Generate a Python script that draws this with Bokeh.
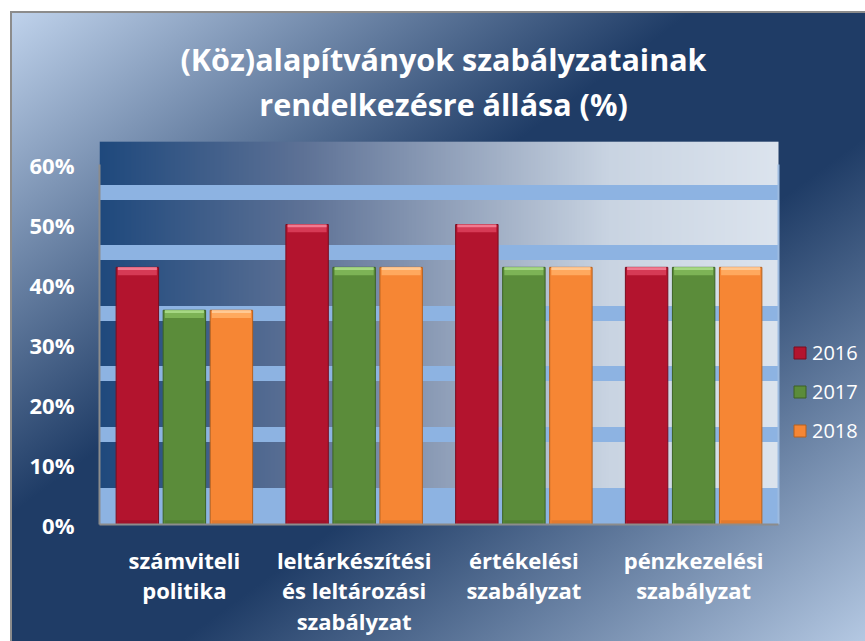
import numpy as np
from bokeh.plotting import figure
from bokeh.models import (ColumnDataSource, Range1d, Legend, LegendItem, Label,
                          BoxAnnotation, PrintfTickFormatter, FixedTicker)
from bokeh.transform import dodge
from bokeh.embed import file_html
from bokeh.resources import INLINE

# ---------------- data ----------------
CATEGORIES = ["számviteli\npolitika",
              "leltárkészítési\nés leltározási\nszabályzat",
              "értékelési\nszabályzat",
              "pénzkezelési\nszabályzat"]
YEARS = ["2016", "2017", "2018"]
V2016 = [42.86, 50.0, 50.0, 42.86]
V2017 = [35.71, 42.86, 42.86, 42.86]
V2018 = [35.71, 42.86, 42.86, 42.86]
Y_TICKS = [0, 10, 20, 30, 40, 50, 60]
TITLE_LINES = ["(Köz)alapítványok szabályzatainak", "rendelkezésre állása (%)"]

# decorative background bands of the plot area (in % units)
BAND_LO = [0.0, 13.75, 23.9, 33.9, 44.1, 54.1]
BAND_HI = [6.1, 16.25, 26.4, 36.4, 46.6, 56.6]

# ---------------- styles / layout ----------------
FONT = "Open Sans"
FILL = ["#B3142E", "#5B8C3A", "#F68634"]
EDGE = ["#7A0D1F", "#3C6125", "#B5611E"]
CAPC = ["#D63A55", "#7DB356", "#FFA95E"]
CAPC2 = ["#F07A90", "#A6D884", "#FFC994"]
BOTC = ["#A0122A", "#527F34", "#E27A2E"]
OFFSETS = [-0.277, 0.0, 0.277]
BAR_W = 0.25
CAP_H = 1.3
CAP2_H = 0.45
BOT_H = 0.7
W, H = 865, 641
LEFT, TOP, BOTTOM = 99, 11, 117
PLOT_W = 679                      # pixel width of the plot area
PX_PER_UNIT = 6.0                 # vertical pixels per 1 %
FRAME_W = W - LEFT
FRAME_H = H - TOP - BOTTOM
NCAT = len(CATEGORIES)
X_MAX = NCAT * FRAME_W / PLOT_W
Y_MAX = FRAME_H / PX_PER_UNIT
PLOT_TOP = 63.8                   # top of the plot-area fill (in % units)

p = figure(x_range=Range1d(0, X_MAX), y_range=Range1d(0, Y_MAX),
           width=W, height=H, output_backend="svg", toolbar_location=None,
           min_border_left=LEFT, min_border_right=0, min_border_top=TOP,
           min_border_bottom=BOTTOM)
p.border_fill_color = None
p.background_fill_color = None
p.outline_line_color = None
p.title.text = ""
p.title.text_font_size = "1px"
p.title.standoff = 0
p.styles = {
    "background": (
        "linear-gradient(#8c8c8c,#8c8c8c) 10px 11px / 100% 2px no-repeat, "
        "linear-gradient(#8c8c8c,#8c8c8c) 10px 11px / 2px 100% no-repeat, "
        "linear-gradient(to bottom right, #C0D3EC 0%, #1F3C66 40%, #1F3C66 60%, #B4C8E2 100%) "
        "10px 11px / 855px 630px no-repeat, #ffffff")
}

# plot-area horizontal gradient
stops_pos = [0.0, 0.30, 0.75, 1.0]
stops_col = [(31, 73, 125), (94, 114, 150), (201, 212, 226), (220, 228, 238)]
N = 400
t = np.linspace(0, 1, N)
img = np.zeros((1, N), dtype=np.uint32)
view = img.view(dtype=np.uint8).reshape((1, N, 4))
for k in range(3):
    view[0, :, k] = np.interp(t, stops_pos, [c[k] for c in stops_col]).astype(np.uint8)
view[0, :, 3] = 255
p.image_rgba(image=[img], x=0, y=0, dw=NCAT, dh=PLOT_TOP, level="image")

for lo, hi in zip(BAND_LO, BAND_HI):
    p.add_layout(BoxAnnotation(left=0, right=NCAT, bottom=lo, top=hi, fill_color="#8DB3E2",
                               fill_alpha=1.0, line_color=None, level="underlay"))

# thin light edge on the right of the plot area
p.segment(x0=NCAT, y0=Y_TICKS[0], x1=NCAT, y1=Y_TICKS[-1], line_color="#9DBBE0", line_width=2)

# bars
pos = [i + 0.5 for i in range(NCAT)]
src = ColumnDataSource(dict(pos=pos, cat=CATEGORIES, v2016=V2016, v2017=V2017, v2018=V2018))
for yr, vals in zip(YEARS, [V2016, V2017, V2018]):
    src.data["c" + yr] = [v - CAP_H for v in vals]
    src.data["d" + yr] = [v - CAP2_H for v in vals]

renderers = []
for i, yr in enumerate(YEARS):
    xd = dodge("pos", OFFSETS[i])
    r = p.vbar(x=xd, top="v" + yr, width=BAR_W, source=src,
               fill_color=FILL[i], line_color=EDGE[i], line_width=1)
    p.vbar(x=xd, bottom="c" + yr, top="v" + yr, width=BAR_W * 0.92, source=src,
           fill_color=CAPC[i], line_color=None)
    p.vbar(x=xd, bottom="d" + yr, top="v" + yr, width=BAR_W * 0.92, source=src,
           fill_color=CAPC2[i], line_color=None)
    p.vbar(x=xd, bottom=0, top=BOT_H, width=BAR_W * 0.92, source=src,
           fill_color=BOTC[i], line_color=None)
    renderers.append(r)

# axes
p.xgrid.grid_line_color = None
p.ygrid.grid_line_color = None
p.xaxis.ticker = FixedTicker(ticks=pos)
p.xaxis.major_label_overrides = {x: c for x, c in zip(pos, CATEGORIES)}
p.xaxis.bounds = (0, NCAT)
p.yaxis.ticker = FixedTicker(ticks=Y_TICKS)
p.yaxis.formatter = PrintfTickFormatter(format="%d%%")
p.yaxis.bounds = (Y_TICKS[0], Y_TICKS[-1])
for ax in (p.xaxis, p.yaxis):
    ax.axis_line_color = "#8C8C8C"
    ax.axis_line_width = 2
    ax.major_tick_line_color = None
    ax.minor_tick_line_color = None
    ax.major_tick_out = 0
    ax.major_tick_in = 0
    ax.major_label_text_color = "white"
    ax.major_label_text_font = FONT
    ax.major_label_text_font_style = "bold"
    ax.major_label_text_font_size = "22px"
p.yaxis.major_label_standoff = 25
p.xaxis.major_label_standoff = 20
p.xaxis.major_label_text_line_height = 1.03

# title: two centred lines (screen offsets from the frame's bottom-left corner)
TITLE_X = 344
TITLE_Y = [466, 421]
for line, ty in zip(TITLE_LINES, TITLE_Y):
    p.add_layout(Label(x=TITLE_X, y=ty, x_units="screen", y_units="screen", text=line,
                       text_align="center", text_baseline="middle", text_color="white",
                       text_font=FONT, text_font_style="bold", text_font_size="30.5px"))

# legend, just to the right of the plot area
legend = Legend(items=[LegendItem(label=yr, renderers=[renderers[i]]) for i, yr in enumerate(YEARS)],
                location=(PLOT_W + 14, 80), orientation="vertical", glyph_width=15, glyph_height=15,
                label_standoff=5, spacing=12, padding=0, margin=0,
                background_fill_alpha=0, border_line_color=None,
                label_text_color="white", label_text_font=FONT, label_text_font_size="20px")
p.add_layout(legend, "center")

open("out.html", "w").write(file_html(p, INLINE))
